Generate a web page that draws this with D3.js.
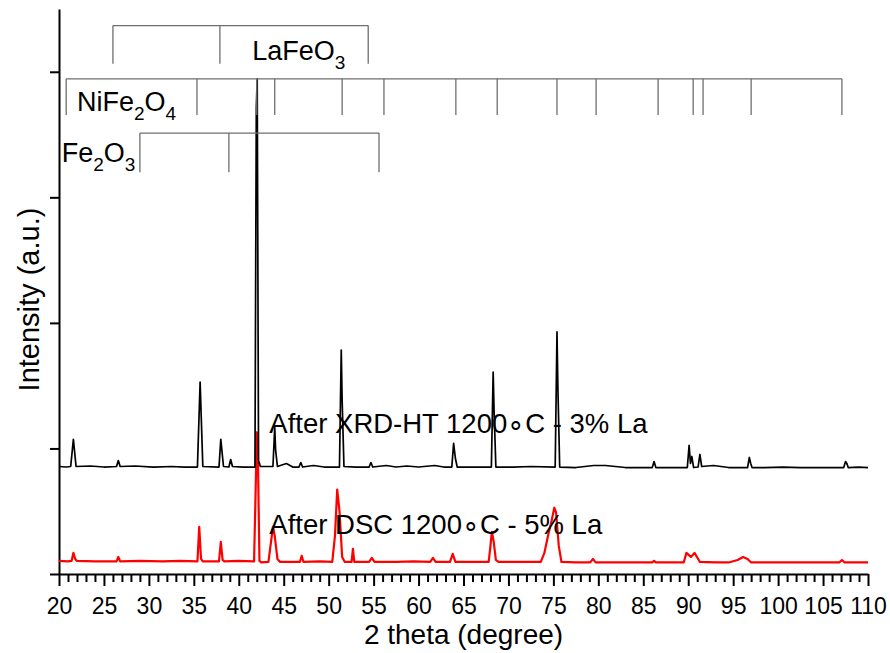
<!DOCTYPE html>
<html>
<head>
<meta charset="utf-8">
<script src="https://cdn.jsdelivr.net/npm/d3@7"></script>
<style>
  body { margin: 0; background: #fff; }
  svg { display: block; font-family: "Liberation Sans", Arial, sans-serif; }
</style>
</head>
<body>
<script>
// XRD patterns, 2 theta vs intensity (a.u.)
// black: after XRD-HT 1200C - 3% La
const blackTheta = [20.0, 20.8, 21.3, 21.6, 21.9, 23.5, 25.0, 26.4, 26.6, 26.8, 28.5, 30.5, 32.5, 34.0, 35.4, 35.7, 36.0,
  37.8, 38.0, 38.3, 38.9, 39.1, 39.3, 40.5, 41.8, 41.95, 42.05, 42.2, 42.4, 43.8, 44.0, 44.1, 44.3, 45.3, 46.0,
  46.7, 46.9, 47.1, 48.3, 49.5, 51.2, 51.4, 51.5, 51.7, 53.0, 54.5, 54.7, 54.9, 56.4, 57.5, 58.7, 60.0, 61.8,
  62.8, 63.7, 63.9, 64.1, 64.3, 66.0, 68.1, 68.3, 68.4, 68.6, 70.5, 72.5, 75.2, 75.4, 75.5, 75.7, 77.5, 79.5,
  80.8, 83.0, 86.0, 86.2, 86.4, 88.0, 89.9, 90.1, 90.25, 90.4, 90.6, 91.1, 91.3, 91.5, 92.8, 94.5, 96.6, 96.8,
  96.95, 97.1, 98.5, 100.5, 102.5, 105.0, 107.3, 107.5, 107.65, 107.8, 109.0, 110.0];
const blackInt = [856, 852, 856, 1072, 856, 860, 852, 856, 904, 856, 860, 852, 856, 852, 852, 1528, 856,
  852, 1072, 856, 852, 912, 856, 852, 852, 3712, 3944, 904, 856, 856, 1168, 984, 856, 880, 852,
  852, 888, 852, 864, 852, 852, 1784, 1384, 856, 852, 852, 888, 852, 864, 852, 860, 852, 864,
  852, 852, 1040, 920, 852, 852, 852, 1608, 1304, 852, 852, 856, 852, 1928, 1488, 852, 848, 864,
  864, 848, 848, 896, 848, 848, 848, 1024, 880, 936, 848, 852, 952, 856, 864, 848, 848, 928,
  880, 848, 848, 852, 848, 848, 848, 896, 880, 848, 852, 848];

// red: after DSC 1200C - 5% La
const redTheta = [20.0, 21.0, 21.4, 21.6, 21.8, 22.0, 24.0, 26.4, 26.6, 26.8, 29.0, 31.5, 33.5, 35.4, 35.6, 35.8, 36.0,
  37.8, 38.0, 38.2, 38.4, 40.0, 41.7, 41.9, 42.0, 42.15, 42.3, 42.5, 43.3, 43.6, 43.8, 44.0, 44.3, 44.6, 46.8,
  47.0, 47.2, 49.0, 50.4, 50.7, 50.95, 51.2, 51.5, 51.8, 52.55, 52.7, 52.85, 54.5, 54.8, 55.1, 57.5, 59.5, 61.3,
  61.6, 61.9, 63.5, 63.8, 64.1, 66.0, 67.8, 68.0, 68.15, 68.35, 68.6, 68.9, 71.0, 73.6, 74.0, 74.4, 74.8, 75.1,
  75.3, 75.6, 75.9, 77.5, 79.1, 79.4, 79.7, 82.5, 86.0, 86.2, 86.4, 89.5, 89.8, 90.3, 90.7, 91.3, 93.0, 94.5,
  95.5, 96.1, 96.6, 97.0, 100.0, 103.5, 106.8, 107.1, 107.4, 110.0];
const redInt = [104, 100, 104, 168, 120, 104, 100, 100, 136, 100, 104, 100, 104, 100, 376, 120, 100,
  100, 256, 112, 100, 104, 100, 744, 1128, 824, 104, 92, 96, 264, 376, 304, 120, 96, 96,
  144, 96, 100, 96, 304, 672, 504, 136, 96, 96, 200, 96, 96, 128, 96, 96, 100, 96,
  128, 96, 96, 160, 96, 96, 96, 224, 336, 264, 112, 96, 96, 96, 168, 304, 424, 528,
  488, 224, 96, 92, 92, 120, 92, 92, 92, 104, 92, 92, 168, 136, 168, 96, 92, 92,
  112, 136, 120, 92, 92, 92, 92, 112, 92, 92];

// reference stick patterns (2 theta)
const lafeo3Pos = [26.0, 37.9, 54.4];
const nife2o4Pos = [20.8, 35.35, 42.0, 44.0, 51.5, 56.15, 64.15, 68.75, 75.4, 79.75, 86.65, 90.55, 91.65, 97.0, 107.1];
const fe2o3Pos = [29.0, 38.9, 55.6];

const xTicks = d3.range(20, 111, 5);
const yTicks = [0, 1000, 2000, 3000, 4000];

const svgWidth = 890;
const svgHeight = 653;
const margin = { top: 9, right: 22, bottom: 79, left: 59 };
const width = svgWidth - margin.left - margin.right;
const height = svgHeight - margin.top - margin.bottom;

const svg = d3.select("body").append("svg")
  .attr("width", svgWidth)
  .attr("height", svgHeight);

const chart = svg.append("g")
  .attr("transform", `translate(${margin.left}, ${margin.top})`);

const xScale = d3.scaleLinear().domain([20, 110]).range([0, width]);
const yScale = d3.scaleLinear().domain([0, 4500]).range([height, 0]);

// x axis: major every 5, minor every 1
chart.append("g")
  .attr("transform", `translate(0, ${height})`)
  .call(d3.axisBottom(xScale).tickValues(d3.range(20, 111, 1).filter(d => d % 5 !== 0)).tickSize(8).tickFormat(""))
  .call(g => g.select(".domain").remove())
  .selectAll("line").attr("stroke", "#000").attr("stroke-width", 2);

const xAxis = chart.append("g")
  .attr("transform", `translate(0, ${height})`)
  .call(d3.axisBottom(xScale).tickValues(xTicks).tickSize(12).tickPadding(12).tickSizeOuter(0));
xAxis.select(".domain").attr("stroke-width", 2);
xAxis.selectAll(".tick line").attr("stroke-width", 2);
xAxis.selectAll("text").attr("font-size", 23).attr("fill", "#000")
  .attr("font-family", "Liberation Sans, Arial, sans-serif");

const yAxis = chart.append("g")
  .call(d3.axisLeft(yScale).tickValues(yTicks).tickSize(9).tickFormat("").tickSizeOuter(0));
yAxis.select(".domain").attr("stroke-width", 2);
yAxis.selectAll(".tick line").attr("stroke-width", 2);

// traces
const line = d3.line().x(d => xScale(d[0])).y(d => yScale(d[1]));

chart.append("path")
  .datum(redTheta.map((t, i) => [t, redInt[i]]))
  .attr("fill", "none")
  .attr("stroke", "#ff0000")
  .attr("stroke-width", 2.2)
  .attr("stroke-linejoin", "round")
  .attr("d", line);

chart.append("path")
  .datum(blackTheta.map((t, i) => [t, blackInt[i]]))
  .attr("fill", "none")
  .attr("stroke", "#000")
  .attr("stroke-width", 1.7)
  .attr("stroke-linejoin", "round")
  .attr("d", line);

// stick patterns
function sticks(pos, top, bottom) {
  const g = chart.append("g").attr("stroke", "#6e6e6e").attr("stroke-width", 1.3);
  g.append("line")
    .attr("x1", xScale(d3.min(pos))).attr("x2", xScale(d3.max(pos)))
    .attr("y1", yScale(top)).attr("y2", yScale(top));
  g.selectAll("line.tick").data(pos).enter().append("line")
    .attr("class", "tick")
    .attr("x1", d => xScale(d)).attr("x2", d => xScale(d))
    .attr("y1", yScale(top)).attr("y2", yScale(bottom));
}
sticks(lafeo3Pos, 4368, 4064);
sticks(nife2o4Pos, 3944, 3656);
sticks(fe2o3Pos, 3512, 3200);

function phaseLabel(parts, x, y) {
  const t = chart.append("text")
    .attr("x", x).attr("y", y)
    .attr("font-size", 27)
    .attr("fill", "#000");
  parts.forEach(p => {
    if (p[1]) {
      t.append("tspan").attr("font-size", 19).attr("dy", 9).text(p[0]);
    } else {
      t.append("tspan").attr("dy", p[2] || 0).text(p[0]);
    }
  });
}
phaseLabel([["LaFeO"], ["3", true]], xScale(41.5), yScale(4095));
phaseLabel([["NiFe"], ["2", true], ["O", false, -9], ["4", true]], xScale(22.0), yScale(3690));
phaseLabel([["Fe"], ["2", true], ["O", false, -9], ["3", true]], xScale(20.3), yScale(3280));

// series labels
chart.append("text")
  .attr("x", xScale(43.4)).attr("y", yScale(1120))
  .attr("font-size", 27.5).attr("fill", "#000")
  .text("After XRD-HT 1200\u2218C - 3% La");
chart.append("text")
  .attr("x", xScale(43.4)).attr("y", yScale(320))
  .attr("font-size", 27.5).attr("fill", "#000")
  .text("After DSC 1200\u2218C - 5% La");

// axis titles
svg.append("text")
  .attr("x", margin.left + width / 2).attr("y", 644)
  .attr("text-anchor", "middle")
  .attr("font-size", 28)
  .text("2 theta (degree)");
svg.append("text")
  .attr("transform", `translate(39, ${margin.top + height / 2 + 8}) rotate(-90)`)
  .attr("text-anchor", "middle")
  .attr("font-size", 29)
  .text("Intensity (a.u.)");
</script>
</body>
</html>
